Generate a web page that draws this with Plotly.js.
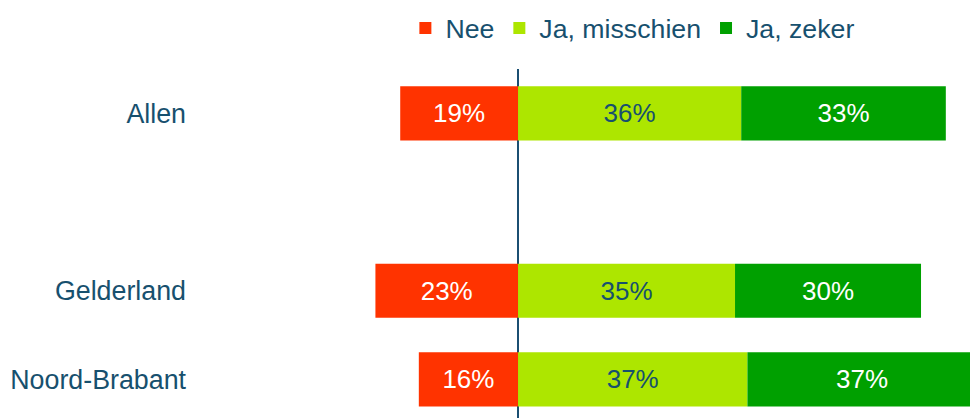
<!DOCTYPE html>
<html>
<head>
<meta charset="utf-8">
<script src="https://cdn.plot.ly/plotly-3.0.1.min.js"></script>
<style>
html,body{margin:0;padding:0;background:#fff;}
#chart{width:970px;height:418px;}
</style>
</head>
<body>
<div id="chart"></div>
<script>
const categories = ["Allen", " ", "Gelderland", "Noord-Brabant"];
const nee = [19, null, 23, 16];
const jaMisschien = [36, null, 35, 37];
const jaZeker = [33, null, 30, 37];
const seriesNames = ["Nee", "Ja, misschien", "Ja, zeker"];

const textColor = "#17506E";
const fontFamily = "Liberation Sans, Arial, sans-serif";

function pct(arr){ return arr.map(v => v == null ? "" : v + "%"); }

const traces = [
  {
    type: "bar", orientation: "h", name: seriesNames[0],
    y: categories, x: nee.map(v => v == null ? null : -v),
    text: pct(nee), textposition: "inside", insidetextanchor: "middle",
    textfont: {color: "#FFFFFF", size: 26, family: fontFamily},
    marker: {color: "#FF3300"}, width: 0.61, hoverinfo: "none"
  },
  {
    type: "bar", orientation: "h", name: seriesNames[1],
    y: categories, x: jaMisschien,
    text: pct(jaMisschien), textposition: "inside", insidetextanchor: "middle",
    textfont: {color: textColor, size: 26, family: fontFamily},
    marker: {color: "#ADE600"}, width: 0.61, hoverinfo: "none"
  },
  {
    type: "bar", orientation: "h", name: seriesNames[2],
    y: categories, x: jaZeker,
    text: pct(jaZeker), textposition: "inside", insidetextanchor: "middle",
    textfont: {color: "#FFFFFF", size: 26, family: fontFamily},
    marker: {color: "#00A000"}, width: 0.61, hoverinfo: "none"
  }
];

const layout = {
  width: 970, height: 418,
  margin: {l: 195, r: 0, t: 69, b: 0, pad: 0},
  paper_bgcolor: "#fff", plot_bgcolor: "#fff",
  barmode: "relative",
  font: {family: fontFamily, color: textColor, size: 26},
  showlegend: true,
  legend: {
    orientation: "h", x: 0.565, xanchor: "center", y: 1.117, yanchor: "middle",
    font: {size: 26.7, color: textColor, family: fontFamily},
    traceorder: "normal", bgcolor: "rgba(0,0,0,0)"
  },
  xaxis: {
    range: [-52.1, 72.9], autorange: false,
    showticklabels: false, showgrid: false, ticks: "",
    zeroline: true, zerolinecolor: "#1B4F72", zerolinewidth: 1.5,
    showline: false, fixedrange: true
  },
  yaxis: {
    type: "category", categoryorder: "array", categoryarray: categories,
    range: [3.435, -0.5], autorange: false,
    showgrid: false, zeroline: false, showline: false, ticks: "",
    ticklabelstandoff: 8,
    tickfont: {size: 26.8, color: textColor, family: fontFamily},
    fixedrange: true
  }
};

Plotly.newPlot("chart", traces, layout, {displayModeBar: false, staticPlot: true});
</script>
</body>
</html>
